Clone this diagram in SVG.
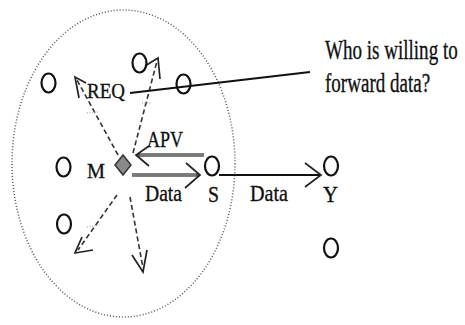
<svg xmlns="http://www.w3.org/2000/svg" width="465" height="325" viewBox="0 0 465 325">
<style>
  .lbl { font-family: "Liberation Serif", "Times New Roman", serif; fill: #111; stroke: #111; stroke-width: 0.35; }
  .node { fill: none; stroke: #111; stroke-width: 2.2; }
  .dash { fill: none; stroke: #333; stroke-width: 1.6; stroke-dasharray: 5 3; }
  .head { fill: none; stroke: #222; stroke-width: 1.7; stroke-linejoin: miter; }
  .dbl-o { fill: none; stroke: #555; stroke-width: 3.4; }
  .dbl-i { fill: none; stroke: #9a9a9a; stroke-width: 1.1; }
  .solid { fill: none; stroke: #111; stroke-width: 1.9; }
  .ghost { fill: none; stroke: #bbb; stroke-width: 1.5; stroke-dasharray: 1 1.5; }
</style>
<rect width="465" height="325" fill="#fff"/>

<g id="range">
  <ellipse cx="123.5" cy="163.5" rx="111.5" ry="153.5" fill="none" stroke="#555" stroke-width="1.5" stroke-dasharray="1 2"/>
</g>

<g id="connectors">
  <line class="dash" x1="118" y1="155" x2="77" y2="80"/>
  <polyline class="head" points="79,98 75,77 86,83"/>
  <line class="dash" x1="133" y1="153" x2="157" y2="61"/>
  <polyline class="head" points="145,66 158,58 160,79"/>
  <line class="dash" x1="117" y1="195" x2="78" y2="250"/>
  <polyline class="head" points="82,237 75,253 93,250"/>
  <line class="dash" x1="130" y1="197" x2="143" y2="268"/>
  <polyline class="head" points="132,255 143,272 147,250"/>
  <line class="ghost" x1="87" y1="113" x2="98" y2="112"/>
  <line class="ghost" x1="142" y1="103" x2="152" y2="103"/>
  <line class="ghost" x1="87" y1="227" x2="100" y2="225"/>
  <line class="dbl-o" x1="137" y1="155" x2="204" y2="155"/>
  <line class="dbl-i" x1="140" y1="155" x2="204" y2="155"/>
  <polyline class="head" points="149,146 136,155 149,166"/>
  <line class="dbl-o" x1="132" y1="175" x2="199" y2="175"/>
  <line class="dbl-i" x1="132" y1="175" x2="196" y2="175"/>
  <polyline class="head" points="186,163 200,175 185,188"/>
  <line class="solid" x1="219" y1="175" x2="320" y2="175"/>
  <polyline class="head" points="305,163 321,175 305,187"/>
  <line class="solid" x1="130" y1="93" x2="310" y2="72"/>
</g>

<g id="node-M">
  <polygon points="123,155 131,165 123,175 115,165" fill="#8a8a8a" stroke="#333" stroke-width="1.5"/>
  <text class="lbl" x="87" y="178" font-size="22" textLength="18" lengthAdjust="spacingAndGlyphs">M</text>
</g>
<g id="node-S">
  <ellipse class="node" cx="212" cy="166" rx="7" ry="9.5"/>
  <text class="lbl" x="208" y="202" font-size="23" textLength="11" lengthAdjust="spacingAndGlyphs">S</text>
</g>
<g id="node-Y">
  <ellipse class="node" cx="331" cy="166" rx="7" ry="9.5"/>
  <text class="lbl" x="323" y="202" font-size="23" textLength="15" lengthAdjust="spacingAndGlyphs">Y</text>
</g>
<g id="node-n1"><ellipse class="node" cx="48.5" cy="83" rx="7" ry="9.5"/></g>
<g id="node-n2"><ellipse class="node" cx="139.5" cy="63" rx="7" ry="9.5"/></g>
<g id="node-n3"><ellipse class="node" cx="183.5" cy="84" rx="7" ry="9.5"/></g>
<g id="node-n4"><ellipse class="node" cx="63.5" cy="167" rx="7" ry="9.5"/></g>
<g id="node-n5"><ellipse class="node" cx="64" cy="224" rx="7" ry="9.5"/></g>
<g id="node-n6"><ellipse class="node" cx="331" cy="248" rx="7" ry="9.5"/></g>

<g id="labels">
  <text class="lbl" x="87" y="98" font-size="22" textLength="38" lengthAdjust="spacingAndGlyphs">REQ</text>
  <text class="lbl" x="147" y="147" font-size="23" textLength="36" lengthAdjust="spacingAndGlyphs">APV</text>
  <text class="lbl" x="145" y="201" font-size="23" textLength="37" lengthAdjust="spacingAndGlyphs">Data</text>
  <text class="lbl" x="250" y="201" font-size="23" textLength="38" lengthAdjust="spacingAndGlyphs">Data</text>
</g>

<g id="callout">
  <text class="lbl" transform="translate(325,59) scale(0.68,1)" x="0" y="0" font-size="28">Who is willing to</text>
  <text class="lbl" transform="translate(325,92) scale(0.68,1)" x="0" y="0" font-size="28">forward data?</text>
</g>
</svg>
